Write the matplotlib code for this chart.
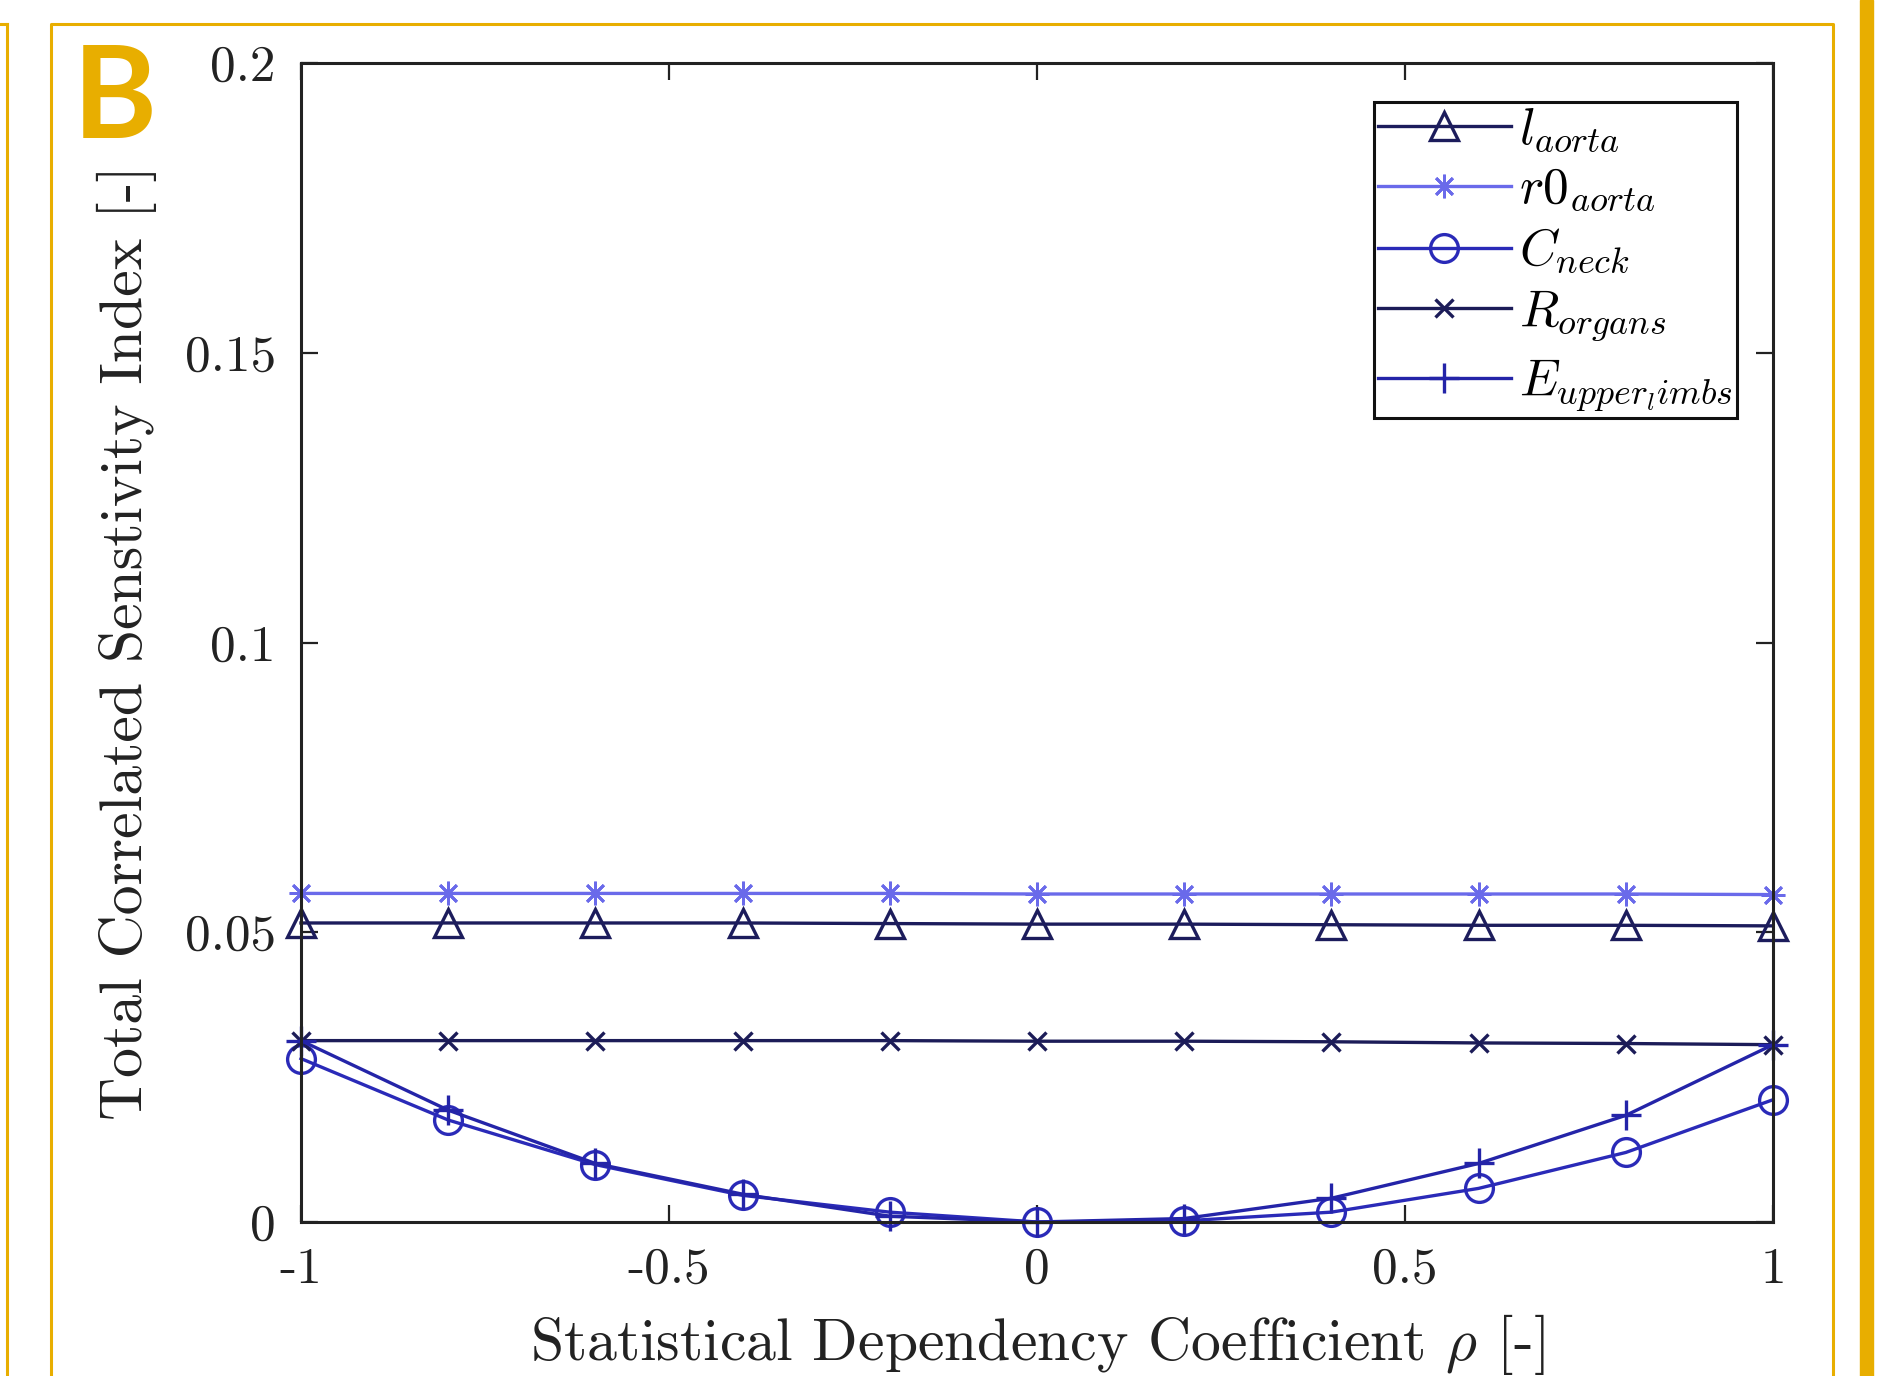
import matplotlib
matplotlib.use("Agg")
import matplotlib.pyplot as plt
from matplotlib.lines import Line2D
from matplotlib.patches import Rectangle

plt.rcParams['mathtext.fontset'] = 'cm'
plt.rcParams['font.family'] = 'cmr10'
plt.rcParams['axes.unicode_minus'] = False

# correlation coefficient rho
rho = [-1, -0.8, -0.6, -0.4, -0.2, 0, 0.2, 0.4, 0.6, 0.8, 1]

l_aorta = [0.0516, 0.0516, 0.0516, 0.0516, 0.0515, 0.0514, 0.0514, 0.0513, 0.0512, 0.0512, 0.0511]
r0_aorta = [0.0567, 0.0567, 0.0567, 0.0567, 0.0567, 0.0566, 0.0566, 0.0566, 0.0566, 0.0566, 0.0565]
C_neck = [0.0282, 0.0176, 0.0099, 0.0046, 0.0017, 0.0000, 0.0002, 0.0017, 0.0058, 0.0120, 0.0211]
R_organs = [0.0313, 0.0313, 0.0313, 0.0313, 0.0313, 0.0312, 0.0312, 0.0311, 0.0309, 0.0308, 0.0306]
E_upper = [0.0313, 0.0193, 0.0101, 0.0048, 0.0010, 0.0000, 0.0006, 0.0041, 0.0101, 0.0184, 0.0306]

labels = [r'$l_{aorta}$', r'$r0_{aorta}$', r'$C_{neck}$', r'$R_{organs}$', r'$E_{upper_limbs}$']

xticks = [-1, -0.5, 0, 0.5, 1]
xtick_labels = ['-1', '-0.5', '0', '0.5', '1']
yticks = [0, 0.05, 0.1, 0.15, 0.2]
ytick_labels = ['0', '0.05', '0.1', '0.15', '0.2']

gold = '#E8AE00'
W, H = 1881, 1376
fig = plt.figure(figsize=(W / 100, H / 100), dpi=100)

# golden panel frames
fig.add_artist(Line2D([0, 7 / W], [1 - 24 / H, 1 - 24 / H], color=gold, lw=2.2, transform=fig.transFigure))
fig.add_artist(Line2D([7 / W, 7 / W], [1 - 24 / H, 0], color=gold, lw=2.2, transform=fig.transFigure))
fig.add_artist(Line2D([51 / W, 51 / W, 1833 / W, 1833 / W], [0, 1 - 24 / H, 1 - 24 / H, 0],
                      color=gold, lw=2.2, transform=fig.transFigure))
fig.add_artist(Rectangle((1860 / W, 0), 13 / W, 1, color=gold, transform=fig.transFigure))
fig.text(73 / W, 1 - 138 / H, 'B', color=gold, fontsize=92, fontweight='bold',
         family='Lato', ha='left', va='baseline')

ax = fig.add_axes([301 / W, 1 - 1222 / H, 1472 / W, 1159 / H])

kw = dict(lw=2.4, clip_on=False)
ax.plot(rho, l_aorta, color='#1c1c5c', marker='^', ms=20, mfc='none', mew=2.4, label=labels[0], **kw)
ax.plot(rho, r0_aorta, color='#6a6aea', marker=(8, 2, 0), ms=17, mew=2.0, label=labels[1], **kw)
ax.plot(rho, C_neck, color='#2a2ab8', marker='o', ms=20, mfc='none', mew=2.4, label=labels[2], **kw)
ax.plot(rho, R_organs, color='#1c1c58', marker='x', ms=13, mew=2.4, label=labels[3], **kw)
ax.plot(rho, E_upper, color='#2424a8', marker='+', ms=21, mew=2.4, label=labels[4], **kw)

ax.set_xlim(-1, 1)
ax.set_ylim(0, 0.2)
ax.set_xticks(xticks)
ax.set_xticklabels(xtick_labels)
ax.set_yticks(yticks)
ax.set_yticklabels(ytick_labels)
ax.tick_params(direction='in', length=12, width=1.6, top=True, right=True,
               labelsize=37, pad=18, colors='#222222')
for s in ax.spines.values():
    s.set_linewidth(2.2)
    s.set_color('#222222')

ax.set_xlabel(r'Statistical Dependency Coefficient $\rho$ [-]', fontsize=43, labelpad=14, color='#222222')
ax.set_ylabel('Total Correlated Senstivity Index [-]', fontsize=43, labelpad=20, color='#222222')

leg = ax.legend(loc='upper right', bbox_to_anchor=(0.9755, 0.966), borderaxespad=0, fontsize=37,
                fancybox=False, edgecolor='#111111', handlelength=2.6, labelspacing=0.25,
                borderpad=0.08, handletextpad=0.15, framealpha=1)
leg.get_frame().set_linewidth(2.2)

fig.savefig('out.png', dpi=100)
